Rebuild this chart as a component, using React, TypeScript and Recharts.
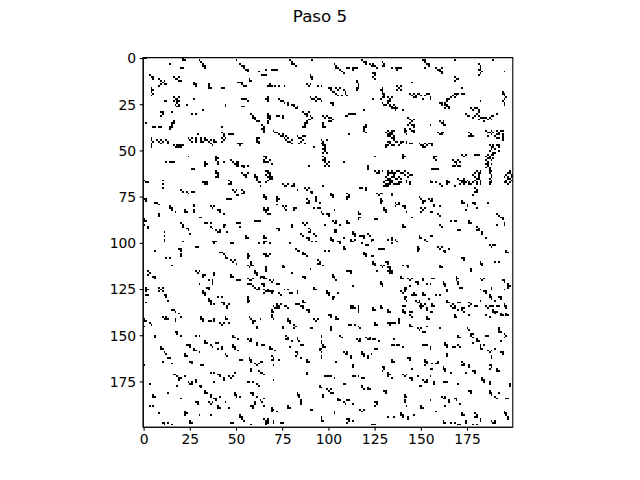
import { ScatterChart, Scatter, XAxis, YAxis, ReferenceArea } from "recharts";

const titleText = "Paso 5";
const gridSize = 200;
const tickValues = [0, 25, 50, 75, 100, 125, 150, 175];

// black cells, as [col, row, pattern]
// '#' = black cell, '.' = white, '/' = next row down
const topBand: [number, number, string][] = [
  [0, 0, "##"], [14, 3, "#"], [21, 0, "#./##"], [30, 1, "#.../.#../..#./..##/...#"], [20, 5, "##"],
  [50, 1, "#"], [52, 3, "#..../.##../..#../...##/....#"], [62, 7, "#"], [64, 9, "###"],
  [3, 9, "#../.##/..#"], [8, 11, "#..../.#.#./..#../.#.##/#...."], [16, 10, "#..#./.##../...##"],
  [27, 13, "#./##/.#"], [35, 14, "#/#/##"], [42, 16, "##"], [51, 13, "###../..#../...##"],
  [57, 11, "#./##"], [68, 14, "#/#"], [4, 16, "#./##/#./.#/#."], [16, 21, "#..#/.##./#.##/..#./.#.#/..##"],
  [11, 23, "##"], [23, 25, "#"], [27, 22, "#"], [53, 22, "###/...#"], [53, 26, "##"], [66, 22, "##"],
  [9, 29, "##/.#/#."], [15, 29, "#"], [26, 30, "#.#"], [32, 28, "#"], [44, 25, "#/#"],
  [58, 30, "#..../.#.../.##../..#../...##"], [64, 36, "#./.#/##/.#/.#"], [68, 32, "#"], [1, 35, "#"],
  [5, 37, "##.##"], [14, 34, "..#/.##/.#./##./#.."], [42, 37, "#"], [4, 43, "#/#/.#/#/#/#"],
  [7, 44, "#.#..#./.#.#..#/..#...#"], [16, 47, "#.####/.####."], [24, 43, "#.#.#..#.#/.#..#..#.#/..#.#..##."],
  [29, 41, "#"], [34, 44, "#.#.#./.#..##/..#.../...#.."], [42, 40, "#../.#./.#./#.#/.#./#.."], [46, 41, "###"],
  [51, 46, "###/.#."], [61, 43, "##/#./##/.#"], [12, 56, "#.###"], [24, 53, "#"], [26, 60, "##"],
  [33, 56, "#/##/#"], [39, 53, "#./##/#./.#/.#"], [39, 61, "#./##/.#/##"], [43, 56, "#"],
  [47, 55, "#..../.#.##/..###/...##"], [53, 58, "##.#/.#.."], [53, 62, "#..#/.##./..#."], [60, 63, "#./##/.#"],
  [65, 53, "##/.#/#./##"], [66, 61, "##./.##/#.#/.##"], [1, 67, "##"], [33, 68, "##"], [47, 67, "#"],
  [79, 1, "#.../.#../.##./...#"], [69, 6, "####"], [66, 6, "#"], [91, 1, "#"],
  [103, 3, "#...../.#..../.##.../...#../....#./.....#"], [110, 5, "##.###/...#.."], [118, 1, "#../.##/..#"],
  [122, 3, "#.#../.###./....#"], [124, 8, "##./.#./#../.#."], [129, 2, "#./.#/##"], [134, 5, "#"],
  [90, 9, "#./##/.#"], [88, 14, "#.#/.#."], [67, 15, "#.#.#.#..#"], [94, 15, "#.#"],
  [100, 16, "##..#.#..../.#...#..#./..##.....#../....#....#./.....#....#"], [115, 12, "#/#/.#/.#/##/#"],
  [128, 16, ".#./##./.#./.##/..#/.##/#.."], [67, 21, "#/#/#"],
  [73, 22, "#........../.##......../...#.#....../.....#.##../........#.#/.........##"],
  [90, 21, "#..#.../.##.##./...#..#"], [101, 24, "##/.#"], [107, 20, "#"], [124, 22, "#"],
  [129, 24, "#..#.../.##.#../....##./.....##/.......#"], [67, 30, "#./##/#./.#/#./#."], [72, 31, "##.#/...#"],
  [86, 29, "#..#../.##.../..#.#./.....#/...##./..#.../.##.../.#..../##...."], [97, 31, "#.#.../.#.##./.....#/...##."],
  [109, 30, "..####/##...."], [119, 28, "#"], [97, 35, "#/#/##"], [119, 36, ".#/##/#./#./.#"], [111, 41, "#"],
  [131, 40, "#..#./.##../..#.#/...##/....#"], [131, 47, "#/#"],
  [70, 39, "#.........../.##......../...#.#....../....##.#.../......#.#../.......#..#/........##..../..........#"],
  [83, 42, "#..##/.##../...#./..#.../.#..#"], [96, 44, "#..#/.#../##../.##./..#./.##./..#./.#.#"], [92, 48, "#"],
  [97, 53, "#.../.#../##../.#.#/..#./.#.#"], [65, 55, "#..#./.##../....#"], [89, 58, "#"], [108, 56, "#"],
  [121, 58, "#/#/#"], [125, 53, "#"], [125, 61, "#.#.#/.##.."], [130, 62, "..#.##/..#.../.#..##/..#.../.#..../#..#../.#...#"],
  [66, 63, "#.../.#.#/..##/.#../#..."], [81, 68, "#"], [97, 69, "#"],
  [136, 5, "####/.#"], [151, 1, "##../.#../..##/...#/.#.."], [158, 5, "#..#/.##./..##/...#"], [168, 1, "#"],
  [168, 10, "#./.##/#."], [181, 3, "#../.#./.#./##./..#/.#./#.."], [189, 1, "#"], [195, 7, "#"], [145, 13, "#"],
  [137, 15, "#.#/.#./#.#"], [144, 19, "#.#.##...##./.#.#..#.#..../..##.......#./.......#...#"],
  [164, 19, "....###.##/...#.#..../..#.#...../##......../#........."], [172, 16, "#"],
  [160, 24, "##.#../.#.##./....##/...#.#"], [182, 23, "#"], [194, 18, "#./##/.#/..#/.#/#./.#/.#"],
  [132, 21, "#.#/.#./##"], [135, 25, "#../.#./.##"], [140, 28, "#"],
  [143, 32, "#..../.#.#./..#../.#.../#.##./...#./.#.../..##./...#."], [155, 36, "#"], [160, 34, "#.#./.##./..##"],
  [174, 30, "#.....#..........#/.##..#.#......##./....#...####.#../.......#....#.#./..........#....."],
  [177, 27, "#.##./.#..#/....#"], [132, 39, "#.##/.#../.##./#..#"],
  [132, 45, "##..##.##.#./.#.....#..#.##/#.##..#......"], [141, 38, "#/##/#./.#"],
  [149, 46, "#..#.###/.##.#..#/..##...."], [159, 40, "#.##/.##."], [176, 40, "#../.#./###"],
  [185, 39, "#..#..#.##/.##.#..#../...#..##.#/.#...#...#/......##.#/.........#"],
  [187, 47, "#.#.##/.##..#/.#.#../#....#/..##.."], [184, 52, "..#.##/.#.#../..##.#/.#..#./..#.../.##.#./..#.../.#.#.."],
  [140, 52, "#/##/#"], [157, 53, "##/#./.#"], [167, 55, "#..#./.##.#/..#../##.##"], [172, 52, "#.#/.#."],
  [156, 60, "####"], [179, 52, "###"],
  [132, 61, "#.#..##..#.../.##.#..##..#./#..#.....#..##/..##..#....#./.#..##.#..../#.#.......#./.##...##..#../#..#.##...."],
  [155, 67, "#"], [170, 65, "#..#/.##./..##/.#.#"], [178, 61, "..#.#./.#.##./#..#../.#.#../..##../.#..#./#.#.#./..#.#."],
  [187, 60, "#./##/#./.#/.#/#./.#/##/#."], [195, 61, "...#.#/..##../.#..#./#.#.##/..##../.#..#./##.#.#/..#..."],
];

const middleBand: [number, number, string][] = [
  [0, 66, "#"], [10, 66, "#/./#/./#"], [20, 71, "#.../.#.#/....#"], [26, 72, "##"], [32, 67, "###/..#"],
  [46, 66, "#/.#/##"], [48, 71, "#.#/.#."], [50, 74, "##"], [53, 71, "#./.#/##"], [61, 66, "#./.##"], [63, 69, "#"],
  [0, 76, "##/.#"], [6, 78, "##/..#"], [14, 80, "#./##/.#"], [17, 83, "#"], [27, 79, "#/#/./#/#"],
  [36, 80, "#.#/.#."], [40, 82, "##/.#"], [43, 84, "#"], [45, 76, "###"], [65, 81, "#.#/.##"], [67, 84, "##"],
  [0, 87, "#/##/./#"], [2, 91, "#/#"], [11, 94, "#/./#/./#/#"], [20, 89, "#./.#/.#"], [23, 92, "##/.#"], [25, 95, "#"],
  [33, 89, "##.#"], [36, 91, "#/.#"], [39, 93, "#.#/.##"], [43, 90, "##/#."], [45, 94, "#"], [50, 89, "###"],
  [52, 91, "#"], [60, 88, "####"], [37, 99, "###/.#"], [21, 99, "#"], [6, 104, "#"], [19, 103, "##/.#"],
  [41, 105, "##./..#"], [44, 107, "#./##"], [47, 109, "#.#/.#."], [50, 111, "#"], [56, 106, "#/##/#"], [58, 110, "#/#/.#"],
  [66, 106, "#.#/.#."], [2, 115, "#/.#/#"], [5, 118, "##/.#"], [15, 112, "#"], [28, 115, "#.#/.#."], [32, 117, "##/#."],
  [35, 120, "#.#"], [38, 116, "#/#"], [47, 117, "#/##"], [50, 120, "###"], [56, 112, "#.##/.#.."], [60, 115, "#/##/.#"],
  [63, 118, "##/#."], [66, 113, "#/#/#"], [56, 119, "#..#/.##"], [1, 124, "#/##/#/./##"], [8, 124, "#.#/.#./#.#"],
  [11, 128, "##/.#"], [13, 131, "#"], [32, 126, "#./##/.#"], [35, 130, "#/##/.#"], [38, 133, "#"], [40, 129, "#.#"],
  [42, 132, "##/.#"], [45, 134, "#/#"], [56, 122, "###./...#"], [60, 124, "#.#./.##"], [64, 122, "##/.#"], [67, 125, "#/##"],
  [56, 129, "#/#/##/#"], [1, 132, "#"],
  [65, 74, "#./##/.#"], [75, 68, "#..#/.##"], [80, 69, "##"], [83, 71, "#"], [72, 75, "#/##/#/./#"], [87, 70, "#.#/.#."],
  [90, 72, "##/.#"], [88, 76, "#./.#/##"], [93, 75, "#/#/#"], [95, 78, "#"], [101, 73, "#/##/.#"], [110, 73, "#/.#/##/#"],
  [117, 70, "##.#/...#"], [126, 73, "#.##/.#"], [130, 69, "###"], [128, 76, "#/##/#"], [130, 81, "#/##/.#"],
  [65, 82, "##/.#"], [75, 80, "#.#/.#./..#"], [81, 81, "##/#."], [92, 81, "#.##"], [96, 83, "#/.#"], [99, 84, "##/.#"],
  [103, 82, "#"], [116, 83, "#/##/./##/#"], [86, 89, "#.#/.#."], [102, 88, "#.#/.##"], [106, 90, "#"], [89, 92, "#./.#/##"],
  [92, 95, "#"], [65, 96, "#./##/./##/#"], [68, 100, "#"], [79, 100, "#"], [85, 95, "#./.#"], [88, 97, "##/.#"],
  [91, 99, "#.#"], [93, 96, "#"], [101, 97, "#./##/.#"], [105, 99, "##/.#"], [108, 97, "#"], [113, 94, "#./##/.#"],
  [117, 96, "###/..#"], [121, 95, "#./.#"], [123, 98, "##/#."], [118, 100, "#"], [134, 97, "#/#/./#"],
  [65, 106, "##/.#"], [82, 103, "#./.##"], [86, 105, "#/##"], [88, 107, "#"], [119, 105, "#./##/.#"], [123, 107, "##"],
  [127, 103, "####"], [124, 110, "#/##/.#"], [128, 112, "#.#/.#."], [131, 110, "##"], [133, 114, "#/##/.#"],
  [126, 115, "#"], [94, 109, "#./.#/##"], [97, 112, "#"], [102, 117, "#/##/.#"], [104, 120, "#"], [110, 115, "###"],
  [112, 116, "#"], [65, 118, "#./##"], [68, 120, "#.#/.#."], [72, 122, "##"], [65, 125, "#./.#/#."], [69, 126, "##/#."],
  [73, 127, "#/.#"], [76, 125, "#.#"], [79, 127, "##"], [83, 126, "#/#"], [92, 124, "#./##"], [99, 126, "#./##/.#"],
  [102, 129, "##/#."], [105, 127, "#"], [113, 123, "#"], [128, 121, "#./##/.#"], [70, 134, "#.#./.###"], [78, 135, "#"],
  [86, 131, "#/##/./#"], [112, 135, "###"], [116, 134, "#/#"], [128, 134, "#./##"],
  [132, 66, "##./..#/.#"], [136, 68, "#"], [144, 67, "#/#"], [155, 66, "#./##"], [158, 67, "#"], [160, 68, "#/.#"],
  [164, 66, "#./##/#"], [168, 69, "#"], [173, 66, "#.#/.#."], [176, 67, "#/##"], [179, 70, "#./.#/##"], [182, 67, "#"],
  [178, 74, "#"], [134, 73, "#/#"], [136, 78, "#.#/.##/#"], [140, 80, "##/.#"], [142, 83, "#"],
  [149, 75, "#/.#"], [151, 77, "##/#."], [154, 76, "#.#/.##"], [157, 79, "#/#"], [150, 81, "#.#/.#./#"], [155, 83, "##"],
  [159, 84, "#/.#"], [160, 80, "#"], [172, 77, "#./##"], [175, 79, "#/#"], [178, 78, "##/.#"], [180, 81, "#"], [174, 82, "#"],
  [186, 78, "#"], [191, 84, "#./.#"], [193, 86, "##/.#"], [195, 89, "#/#"], [191, 90, "#"], [166, 88, "#.##"], [176, 88, "#./##"],
  [180, 91, "#./.#/##"], [183, 94, "#/#"], [132, 98, "#.#.#"], [137, 99, "#"], [149, 96, "#./##"], [152, 98, "#/.#"],
  [155, 96, "##"], [148, 102, "#/##/#"], [159, 102, "#.#/.#."], [162, 104, "##/.#"], [165, 103, "#"], [187, 101, "#.##/.#"],
  [132, 110, "#/#/./##/.#/#"], [133, 116, "#"], [140, 112, "#.##"], [143, 113, "#"], [182, 110, "#./##/.#"],
  [139, 118, "#./##"], [143, 119, "#.#/.#."], [147, 121, "##/.#"], [151, 119, "#/#"], [153, 122, "#.#"], [156, 119, "##"],
  [144, 123, "#"], [162, 121, "#./##/.#"], [164, 125, "#/#"], [169, 118, "#./##/#./.#/.#"], [171, 124, "##"],
  [182, 119, "#.#/.#."], [182, 125, "#"], [194, 120, "##/.#"], [197, 122, "#/##/#"], [195, 125, "#"],
  [139, 126, "#.#/.#."], [141, 129, "##/#./.#"], [145, 128, "#"], [147, 131, "#.#/.##"], [151, 127, "#/##"], [154, 130, "#"],
  [156, 133, "#/##"], [140, 134, "##"], [164, 131, "#./##"], [167, 133, "#/.#"], [170, 132, "##"], [176, 132, "#/.#/#"],
  [179, 134, "##"], [182, 131, "#"], [187, 128, "#./##/.#"], [190, 131, "#"], [192, 129, "##/.#"], [195, 133, "#/##/.#"],
  [189, 134, "#.#"],
];

const bottomBand: [number, number, string][] = [
  [0, 141, "#/##"], [3, 143, "#/.#"], [0, 145, "#"], [10, 140, "#.#./.###"], [17, 141, "#/#"], [20, 140, "#"], [15, 136, "##/..#"],
  [19, 138, "#"], [36, 133, "#"], [46, 133, "#"], [31, 140, "#./##/.#"], [35, 142, "##"], [38, 141, "#/#"], [41, 143, "#.#/.#."],
  [44, 140, "#/##"], [46, 143, "#"], [57, 140, "#./.#"], [59, 142, "##/#."], [61, 145, "#/#"], [63, 141, "#"],
  [17, 148, "##/.#"], [20, 150, "#"], [48, 150, "#./##"], [51, 152, "#"], [56, 152, "#.#./.##"], [61, 154, "#/#"], [64, 155, "##"],
  [9, 156, "#/##"], [11, 159, "#/.#"], [13, 162, "##"], [10, 164, "#"], [15, 165, "#"], [23, 155, "###/..#"], [27, 157, "#/##"],
  [30, 159, "#"], [33, 153, "#./##"], [36, 155, "#/.#"], [39, 154, "##"], [40, 157, "#"], [42, 156, "#/#"], [48, 155, "#/##/.#"],
  [51, 158, "#"], [57, 162, "#./##/.#"], [60, 165, "#.#/.#."], [63, 164, "##"], [58, 168, "#/#"], [62, 169, "#./.##"],
  [65, 171, "#"], [0, 166, "#"], [3, 176, "#"], [16, 171, "##./..#"], [19, 173, "##/#."], [22, 172, "#"], [24, 175, "#.#/.##"],
  [28, 174, "#/#"], [18, 177, "#"], [30, 177, "##/.#"], [25, 164, "##/.#"], [36, 170, "#.#"], [40, 171, "##/.#"], [43, 173, "#/#"],
  [46, 172, "#.#/.#."], [49, 170, "#"], [38, 175, "#"], [56, 175, "##.#"], [61, 176, "#/.#"], [13, 181, "#"], [20, 184, "#"],
  [33, 180, "#./##"], [36, 182, "#/#"], [38, 184, "##/.#"], [41, 183, "#"], [35, 186, "#.#/.#."], [40, 188, "#/##"],
  [44, 186, "#"], [46, 189, "#"], [49, 181, "#./##/.#"], [52, 183, "#"], [58, 181, "##/.#"], [61, 183, "#"], [60, 186, "#/#"],
  [63, 185, "#./.#"], [65, 188, "#"], [58, 188, "##/.#"], [3, 188, "#.#"], [22, 191, "#/##/#"], [36, 193, "#"], [52, 193, "#/##/.#"],
  [54, 196, "#"], [10, 197, "##.#/.#.."], [15, 198, "#"], [25, 196, "#/##"], [66, 196, "#/##/#"],
  [72, 133, "#.#/.#."], [76, 134, "##"], [82, 133, "###"], [85, 134, "#/.#"], [88, 136, "##/.#"], [69, 136, "#/##/./#/#"],
  [70, 141, "#"], [78, 141, "#./##/.#"], [81, 144, "#/.#/#"], [92, 141, "#.#/.#."], [100, 139, "##/.#"], [104, 140, "#/##"],
  [101, 145, "#/#/#"], [112, 134, "##/.#"], [116, 136, "#/#"], [124, 135, "#./##"], [111, 144, "##.#"], [116, 145, "#/.#"],
  [125, 143, "#/##"], [134, 143, "###"], [77, 150, "#./.#/##"], [80, 153, "#"], [83, 151, "#/#/.#"], [85, 155, "##"], [79, 156, "#"],
  [96, 150, "#/#/./#/#"], [97, 155, "#/##"], [115, 152, "#.#/.##"], [120, 151, "#.#/.##"], [124, 152, "##"], [127, 153, "#"],
  [135, 152, "#"], [68, 156, "#/##"], [71, 158, "#"], [69, 161, "#./.#/##"], [73, 163, "#"], [70, 166, "#"], [82, 159, "##/.#/#."],
  [85, 162, "#"], [95, 157, "##/#./.#"], [96, 161, "#/#"], [104, 164, "#"], [108, 159, "#.#/.##"], [112, 161, "#/#"],
  [118, 159, "#./##/.#"], [121, 161, "#/#"], [123, 160, "#"], [129, 167, "##/.#/#."], [132, 170, "#/##"], [134, 173, "#"],
  [98, 172, "####"], [103, 173, "#"], [113, 172, "##.#"], [118, 173, "##"], [70, 174, "#"], [95, 177, "#./##"], [99, 179, "#.#/.#."],
  [97, 182, "#/#"], [101, 181, "##"], [118, 177, "#/#/.#"], [121, 178, "#/##"], [65, 184, "#"], [83, 181, "#./##/.#"],
  [85, 185, "#/#/#"], [105, 184, "#./##"], [108, 186, "#/.#"], [110, 185, "##"], [113, 187, "#"], [125, 186, "##/.#/#."],
  [69, 189, "#/##/#"], [72, 191, "#"], [65, 195, "#.#/.##"], [70, 196, "#/#"], [74, 197, "##"], [96, 194, "#/#/##"],
  [110, 195, "##/.#/#."], [113, 196, "#"], [123, 198, "###"], [135, 194, "#"],
  [132, 136, "#/##"], [140, 136, "#./##/.#"], [144, 139, "#/.#"], [149, 134, "##/.#"], [153, 135, "#/#"], [155, 137, "##"],
  [166, 134, "#./.##"], [170, 136, "#"], [172, 135, "##/#./.#"], [176, 139, "#"], [168, 139, "#/##"], [185, 134, "#.##/.#.."],
  [189, 136, "#/#"], [191, 134, "##"], [193, 138, "#./##"], [187, 140, "#"], [132, 143, "##/.#"], [144, 144, "#./##"],
  [148, 146, "#.#/.#."], [151, 148, "##"], [153, 145, "#"], [175, 146, "#/.#"], [177, 149, "##/#./.#"], [180, 152, "#/##"],
  [182, 155, "#.#"], [178, 154, "#"], [192, 146, "#/#/##"], [195, 149, "#/.#/#"], [193, 153, "#"], [134, 155, "##.##"],
  [140, 156, "#"], [151, 155, "###"], [155, 156, "#/#"], [163, 154, "#./##/.#"], [167, 156, "##"], [170, 155, "#/.#"],
  [182, 156, "#./##"], [186, 158, "#.#/.#."], [190, 157, "#"], [193, 159, "##/.#"], [188, 161, "#/#"], [134, 163, "#/##"],
  [143, 162, "##/.#"], [152, 163, "#./##/.#/#"], [156, 165, "#.#"], [159, 164, "#/#"], [155, 168, "##"], [162, 167, "#/##/.#"],
  [166, 170, "#"], [172, 164, "#./.#/##"], [176, 166, "#/#"], [178, 169, "##/.#"], [174, 170, "#"], [187, 166, "##/.#/#."],
  [191, 168, "#/##"], [132, 170, "#/##/#"], [140, 171, "#.#/.#."], [144, 173, "##/.#"], [148, 172, "#"], [151, 174, "#.#/.##"],
  [155, 172, "#"], [157, 175, "#/#"], [183, 173, "#./##/.#"], [187, 175, "#/#"], [162, 175, "###"], [149, 177, "##"],
  [187, 180, "#./##/.#"], [190, 183, "#/.#"], [192, 181, "#"], [141, 182, "#/##/./#/#"], [142, 188, "#"], [161, 183, "#.#/.##"],
  [165, 185, "#/#"], [168, 184, "##/.#"], [171, 187, "#"], [163, 188, "#"], [155, 185, "#"], [139, 192, "#./##/.#"],
  [143, 194, "#/#"], [146, 193, "#"], [162, 196, "#./##"], [166, 197, "#.#"], [170, 198, "##"], [174, 196, "#/#"], [178, 198, "#.#"],
  [172, 192, "#/##"], [179, 192, "#/.#/##"], [182, 195, "#/#"], [188, 196, "#.#/.##"], [195, 191, "#/##/.#"], [197, 194, "#/#"],
  [132, 194, "#"],
];

// further small clumps seen in the denser parts of the lower two thirds
const extraClumps: [number, number, string][] = [
  [103, 93, "##/##"], [112, 98, "#.#/##."], [120, 101, "##"], [108, 102, "#/##"], [98, 104, "#.#"],
  [141, 124, "##/##"], [146, 127, "#./##"], [150, 133, "#.#/.#."], [144, 137, "##"], [138, 141, "#/#/#"],
  [153, 140, "#/##"], [158, 128, "#.#"], [184, 126, "##/.#"], [188, 124, "#/#"], [190, 137, "##/#."],
  [196, 138, "#/##"], [185, 139, "#"], [34, 124, "##/.#"], [30, 122, "#"], [37, 121, "#/#"],
  [22, 160, "#/##"], [31, 166, "##"], [44, 160, "#/.#"], [52, 163, "##"], [6, 150, "#/#"], [28, 150, "#.#"],
  [75, 112, "#/##"], [80, 116, "#"], [86, 118, "##/.#"], [90, 114, "#"], [20, 106, "#/#"], [28, 102, "##"],
  [12, 108, "#.#"], [160, 112, "#/##"], [172, 108, "##/.#"], [177, 114, "#/#"], [190, 110, "#.#"], [196, 104, "#/##"],
  [160, 90, "#/.#"], [170, 93, "##"], [185, 97, "#"], [140, 90, "#/##"], [145, 86, "#"],
  [78, 188, "#/##"], [90, 190, "##"], [103, 191, "#/#"], [117, 190, "#.#/.#."], [130, 180, "##/.#"], [88, 170, "#/#"],
  [108, 176, "##"], [150, 188, "#/##"], [158, 191, "#"], [176, 180, "##/.#"], [170, 176, "#"], [198, 176, "#/#"],
  [196, 184, "##"], [88, 163, "#/##"], [113, 166, "#/#"], [125, 157, "##"], [75, 145, "#/#"], [90, 146, "##"],
  [106, 150, "#/.#"], [5, 182, "#/##"], [8, 192, "#"], [28, 186, "##/.#"], [30, 193, "#"], [47, 197, "##"], [58, 198, "#"],
  [170, 150, "#/##"], [160, 146, "#"], [185, 150, "##"], [164, 160, "#/#"], [145, 168, "#"],
  [22, 82, "#/##"], [30, 86, "##"], [8, 84, "#/#"], [55, 96, "#/##"], [47, 100, "##"], [62, 100, "#"],
  [110, 88, "#/##"], [125, 87, "##"], [80, 90, "#/#"], [72, 92, "##/.#"], [98, 90, "#"],
];

// expand the patches into one point per black cell
const seen = new Set<string>();
const cells: { x: number; y: number }[] = [];
for (const [col, row, pattern] of [...topBand, ...middleBand, ...bottomBand, ...extraClumps]) {
  pattern.split("/").forEach((line, dy) => {
    for (let dx = 0; dx < line.length; dx++) {
      if (line[dx] !== "#") continue;
      const x = col + dx;
      const y = row + dy;
      const key = x + "," + y;
      if (x >= gridSize || y >= gridSize || seen.has(key)) continue;
      seen.add(key);
      cells.push({ x, y });
    }
  });
}

// axes box of the original figure (square, equal aspect)
const plotLeft = 143.2;
const plotRight = 512.8;
const plotTop = 57.6;
const plotBottom = 427.2;
const cellPx = (plotRight - plotLeft) / gridSize;

const tickFont = { fill: "#000", fontSize: 13.9, fontFamily: "DejaVu Sans" };

function CellShape(props: any) {
  const { cx, cy } = props;
  return (
    <rect
      x={cx - cellPx / 2}
      y={cy - cellPx / 2}
      width={cellPx}
      height={cellPx}
      fill="#000"
      shapeRendering="crispEdges"
    />
  );
}

export default function App() {
  return (
    <div style={{ position: "absolute", left: 0, top: 0, width: 640, height: 480, background: "#fff" }}>
      <div
        style={{
          position: "absolute",
          top: 6,
          left: 0,
          width: 640,
          textAlign: "center",
          fontFamily: "DejaVu Sans",
          fontSize: 16.7,
          lineHeight: "20px",
          color: "#000",
        }}
      >
        {titleText}
      </div>
      <ScatterChart
        width={640}
        height={480}
        margin={{ top: plotTop, right: 640 - plotRight, bottom: 480 - plotBottom - 30, left: plotLeft - 50 }}
      >
        <XAxis
          type="number"
          dataKey="x"
          domain={[-0.5, gridSize - 0.5]}
          ticks={tickValues}
          interval={0}
          allowDataOverflow
          height={30}
          tickSize={3.5}
          tickMargin={3.5}
          tick={tickFont}
          axisLine={{ stroke: "#000", strokeWidth: 1.1 }}
          tickLine={{ stroke: "#000", strokeWidth: 1.1 }}
        />
        <YAxis
          type="number"
          dataKey="y"
          domain={[-0.5, gridSize - 0.5]}
          reversed
          ticks={tickValues}
          interval={0}
          allowDataOverflow
          width={50}
          tickSize={3.5}
          tickMargin={3.5}
          tick={tickFont}
          axisLine={{ stroke: "#000", strokeWidth: 1.1 }}
          tickLine={{ stroke: "#000", strokeWidth: 1.1 }}
        />
        <Scatter data={cells} shape={CellShape} isAnimationActive={false} />
        <ReferenceArea
          x1={-0.5}
          x2={gridSize - 0.5}
          y1={-0.5}
          y2={gridSize - 0.5}
          fill="none"
          fillOpacity={0}
          stroke="#000"
          strokeWidth={1.1}
        />
      </ScatterChart>
    </div>
  );
}
